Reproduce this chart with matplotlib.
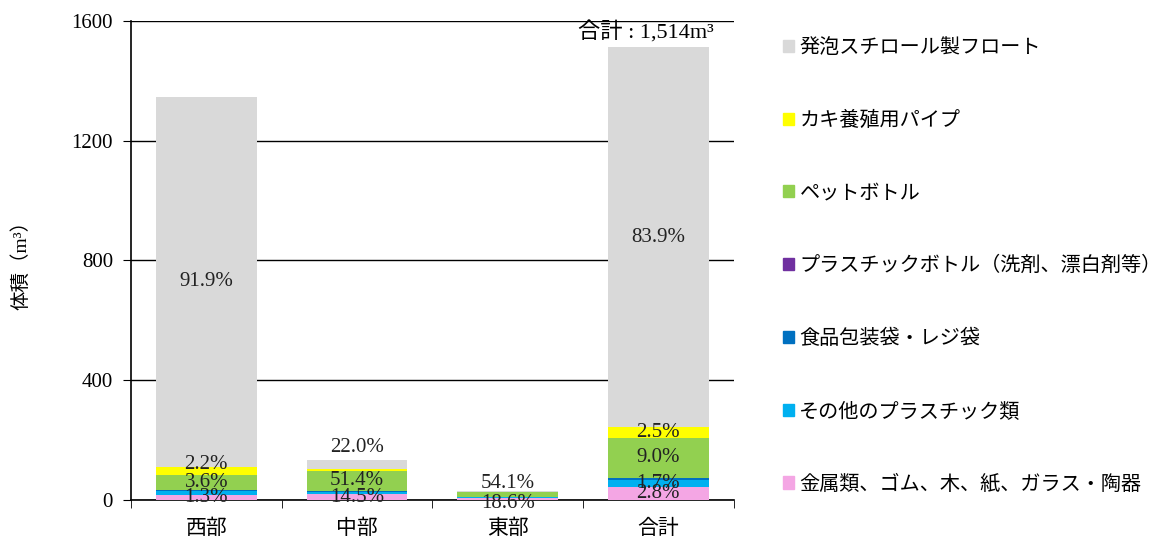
import matplotlib
matplotlib.use("Agg")
import matplotlib.pyplot as plt
from matplotlib.patches import Patch

plt.rcParams['font.family'] = ['Liberation Serif', 'Noto Sans CJK JP', 'DejaVu Sans']

regions = ["西部", "中部", "東部", "合計"]
categories = ["金属類、ゴム、木、紙、ガラス・陶器", "その他のプラスチック類", "食品包装袋・レジ袋",
              "プラスチックボトル（洗剤、漂白剤等）", "ペットボトル", "カキ養殖用パイプ", "発泡スチロール製フロート"]
colors = ["#F4A6E4", "#00B0F0", "#0070C0", "#7030A0", "#92D050", "#FFFF00", "#D9D9D9"]

# volume (m3) per category, bottom to top, for 西部 / 中部 / 東部
west = [17.5, 14.0, 1.5, 0.5, 48.5, 29.6, 1235.0]
middle = [19.4, 8.0, 1.5, 0.5, 68.9, 6.5, 29.5]
east = [5.8, 3.5, 1.2, 0.3, 16.8, 0.6, 2.8]
total = [w + m + e for w, m, e in zip(west, middle, east)]
values = [west, middle, east, total]

# percentage labels: (region index, category index, text)
pct_labels = [
    (0, 6, "91.9%"), (0, 5, "2.2%"), (0, 4, "3.6%"), (0, 0, "1.3%"),
    (1, 6, "22.0%"), (1, 4, "51.4%"), (1, 0, "14.5%"),
    (2, 4, "54.1%"), (2, 0, "18.6%"),
    (3, 6, "83.9%"), (3, 5, "2.5%"), (3, 4, "9.0%"), (3, 1, "1.7%"), (3, 0, "2.8%"),
]
# labels that were moved off the segment centre
label_shift = {(0, 5): 20, (1, 6): 55, (2, 4): 35, (2, 0): -15}

fig = plt.figure(figsize=(11.7, 5.37), dpi=100)
ax = fig.add_axes([0.112, 0.069, 0.515, 0.892])

x = range(len(regions))
bottoms = [0.0] * len(regions)
centers = {}
for ci in range(len(categories)):
    heights = [v[ci] for v in values]
    ax.bar(x, heights, bottom=bottoms, width=0.67, color=colors[ci], zorder=3)
    for ri in range(len(regions)):
        centers[(ri, ci)] = bottoms[ri] + heights[ri] / 2
    bottoms = [b + h for b, h in zip(bottoms, heights)]

for ri, ci, txt in pct_labels:
    y = centers[(ri, ci)] + label_shift.get((ri, ci), 0)
    ax.text(ri, y, txt, ha='center', va='center', fontsize=15, color='#222222', zorder=5)

ax.text(2.916, 1560, "合計 : 1,514m³", ha='center', va='center', fontsize=16)

ax.set_xlim(-0.5, 3.5)
ax.set_ylim(0, 1600)
ax.set_yticks([0, 400, 800, 1200, 1600])
ax.tick_params(axis='y', labelsize=15, length=6, direction='out', pad=7)
ax.set_xticks(list(x))
ax.set_xticklabels(regions, fontsize=15)
ax.tick_params(axis='x', length=0, pad=14)
ax.set_xticks([-0.5, 0.5, 1.5, 2.5, 3.5], minor=True)
ax.tick_params(axis='x', which='minor', length=6, direction='out')
ax.yaxis.grid(True, color='black', linewidth=1, zorder=0)
ax.set_axisbelow(True)
for s in ['top', 'right']:
    ax.spines[s].set_visible(False)
ax.spines['left'].set_linewidth(1.2)
ax.spines['bottom'].set_linewidth(1.2)
ax.set_ylabel("体積（m³）", fontsize=14, labelpad=30)

handles = [Patch(color=c) for c in colors[::-1]]
fig.legend(handles, categories[::-1], loc='upper left', bbox_to_anchor=(0.654, 0.961),
           frameon=False, fontsize=14.5, handlelength=0.55, handleheight=0.55,
           handletextpad=0.25, labelspacing=2.66)

fig.savefig("out.png", dpi=100)
